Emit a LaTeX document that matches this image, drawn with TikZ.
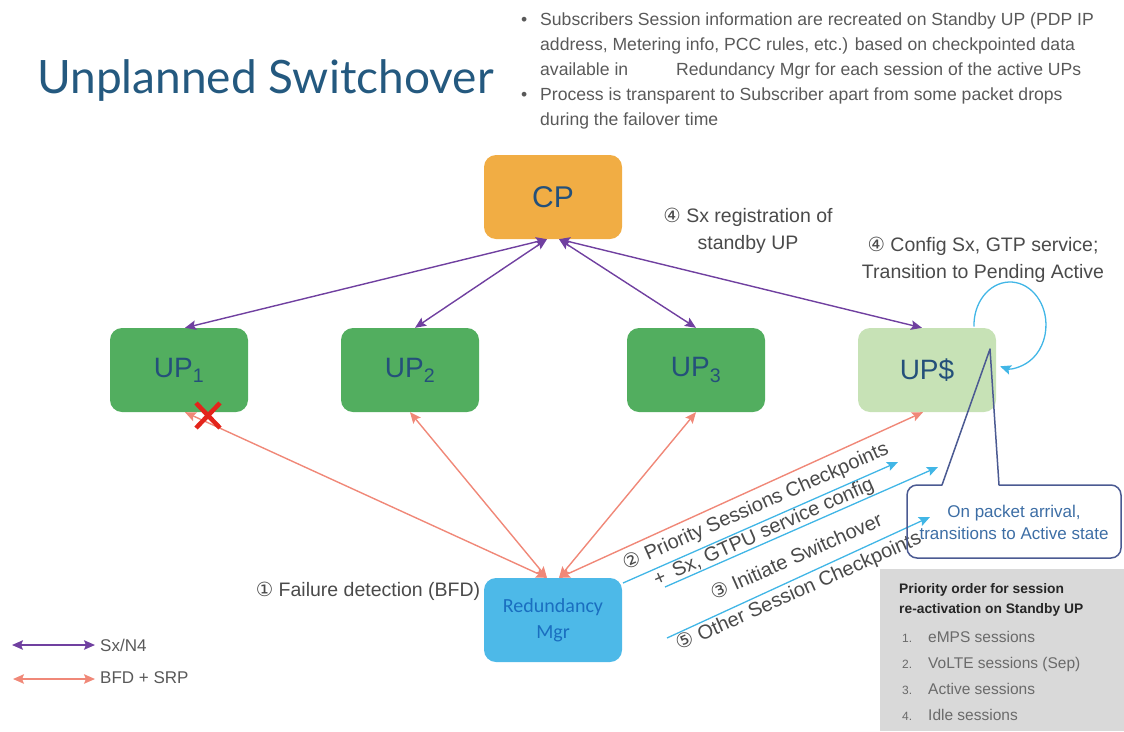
\documentclass[tikz,border=0pt]{standalone}
\usepackage{fontspec}
\setmainfont{Liberation Sans}
\newfontfamily\symfont{DejaVu Sans}
\newfontfamily\calfont{Carlito}
\newfontfamily\headfont{Lato}
\usetikzlibrary{arrows.meta,calc}

\definecolor{cporange}{HTML}{F1AD44}
\definecolor{upgreen}{HTML}{52AE5F}
\definecolor{stbgreen}{HTML}{C7E2B6}
\definecolor{rmblue}{HTML}{4DB9E8}
\definecolor{rmtext}{HTML}{1A6EC0}
\definecolor{nodeblue}{HTML}{24507A}
\definecolor{titleblue}{HTML}{24597F}
\definecolor{sxpurple}{HTML}{7040A0}
\definecolor{bfdsalmon}{HTML}{F08878}
\definecolor{msgblue}{HTML}{41B6E6}
\definecolor{calloutedge}{HTML}{4B5A92}
\definecolor{callouttext}{HTML}{3D6EA5}
\definecolor{panelgray}{HTML}{D9D9D9}
\definecolor{bodygray}{HTML}{595959}
\definecolor{notegray}{HTML}{4A4A4A}
\definecolor{failred}{HTML}{E3241B}

\newcommand{\cnum}[1]{{\symfont #1}}

\begin{document}
\begin{tikzpicture}[x=1pt,y=-1pt,
  elem/.style={rounded corners=12pt, minimum width=138pt, minimum height=84pt,
    inner sep=0pt, text=nodeblue, font=\fontsize{28}{28}\selectfont},
  sxline/.style={draw=sxpurple, line width=1.4pt, {Stealth[length=11pt,width=9.5pt,inset=2pt]}-{Stealth[length=11pt,width=9.5pt,inset=2pt]}},
  bfdline/.style={draw=bfdsalmon, line width=1.4pt, {Stealth[length=11pt,width=9.5pt,inset=2pt]}-{Stealth[length=11pt,width=9.5pt,inset=2pt]}},
  msgline/.style={draw=msgblue, line width=1.3pt, -{Stealth[length=11pt,width=9.5pt,inset=2pt]}},
  note/.style={text=notegray, font=\fontsize{19.5}{27}\selectfont, align=center, inner sep=0pt},
  msgnote/.style={text=notegray, font=\fontsize{20}{24}\selectfont, rotate=24, inner sep=0pt},
  bodyline/.style={anchor=base west, text=bodygray, font=\fontsize{17.6}{22}\selectfont, inner sep=0pt},
  listitem/.style={anchor=base west, text=bodygray!90, font=\fontsize{15.5}{18}\selectfont, inner sep=0pt},
]
\useasboundingbox (0,0) rectangle (1124,731);

% heading and summary bullets
\node[anchor=base west, text=titleblue, font=\headfont\fontsize{46}{46}\selectfont, inner sep=0pt]
  (title) at (37,93) {Unplanned Switchover};
\node[bodyline] (bul1) at (521,25) {\textbullet};
\node[bodyline] (l1) at (540,25) {Subscribers Session information are recreated on Standby UP (PDP IP};
\node[bodyline] (l2) at (540,50) {address, Metering info, PCC rules, etc.) based on checkpointed data};
\node[bodyline] (l3) at (540,75) {available in\hspace{48pt}Redundancy Mgr for each session of the active UPs};
\node[bodyline] (bul2) at (521,100) {\textbullet};
\node[bodyline] (l4) at (540,100) {Process is transparent to Subscriber apart from some packet drops};
\node[bodyline] (l5) at (540,125) {during the failover time};

% network elements
\node[elem, fill=cporange, font=\fontsize{30}{30}\selectfont] (cp) at (553,197) {CP};
\node[elem, fill=upgreen] (up1) at (179,370) {UP\textsubscript{1}};
\node[elem, fill=upgreen] (up2) at (410,370) {UP\textsubscript{2}};
\node[elem, fill=upgreen] (up3) at (696,370) {UP\textsubscript{3}};
\node[elem, fill=stbgreen] (ups) at (927,370) {UP\$};
\node[elem, fill=rmblue, text=rmtext, align=center, font=\calfont\fontsize{20}{26}\selectfont]
  (rm) at (553,620) {Redundancy\\Mgr};

% Sx/N4 links
\draw[sxline] ([xshift=-6pt]cp.south) -- ([xshift=6pt]up1.north);
\draw[sxline] ([xshift=-6pt]cp.south) -- ([xshift=5pt]up2.north);
\draw[sxline] ([xshift=6pt]cp.south) -- (up3.north);
\draw[sxline] ([xshift=6pt]cp.south) -- ([xshift=-5pt]ups.north);

% BFD + SRP links
\draw[bfdline] ([xshift=-6pt]rm.north) -- ([xshift=6pt]up1.south);
\draw[bfdline] ([xshift=-6pt]rm.north) -- (up2.south);
\draw[bfdline] ([xshift=6pt]rm.north) -- (up3.south);
\draw[bfdline] ([xshift=6pt]rm.north) -- ([xshift=-4pt]ups.south);

% failed UP
\draw[failred, line width=4.5pt] (196,403) -- (220,428) (220,403) -- (196,428);

% messages from the Redundancy Mgr to the standby UP
\coordinate (m1s) at (623,583);
\coordinate (m1e) at (898,462);
\coordinate (m2s) at (665,587);
\coordinate (m2e) at (938,467);
\coordinate (m3s) at (667,638);
\coordinate (m3e) at (930,517);
\draw[msgline] (m1s) -- (m1e);
\draw[msgline] (m2s) -- (m2e);
\draw[msgline] (m3s) -- (m3e);
\node[msgnote] (n2) at (756,507) {\cnum{②} Priority Sessions Checkpoints};
\node[msgnote] (n2b) at (764,533) {+\, Sx, GTPU service config};
\node[msgnote] (n3) at (796,556) {\cnum{③} Initiate Switchover};
\node[msgnote] (n5) at (799,592) {\cnum{⑤} Other Session Checkpoints};

% step annotations
\node[note] (n1) at (368,591) {\cnum{①} Failure detection (BFD)};
\node[note] (n4a) at (748,231) {\cnum{④} Sx registration of\\standby UP};
\node[note] (n4b) at (983,260) {\cnum{④} Config Sx, GTP service;\\Transition to Pending Active};

% self transition of the standby UP
\draw[draw=msgblue, line width=1.3pt, -{Stealth[length=11pt,width=9.5pt,inset=2pt]}]
  (974,326.5) arc[start angle=178, end angle=466, x radius=36, y radius=43];

% callout
\draw[calloutedge, line width=1.5pt, line join=round]
  (990,349) -- (999,485) [rounded corners=10pt] -- (1121,485) -- (1121,558) -- (907,558)
  -- (907,485) [sharp corners] -- (942,485) -- cycle;
\node[text=callouttext, align=center, font=\fontsize{17}{22}\selectfont, inner sep=0pt]
  (cbt) at (1014,522) {On packet arrival,\\transitions to Active state};

% priority panel
\node[fill=panelgray, anchor=north west, minimum width=244pt, minimum height=162pt, inner sep=0pt]
  (panel) at (880,569) {};
\node[anchor=base west, text=black!85, font=\bfseries\fontsize{13.8}{20}\selectfont, inner sep=0pt]
  (ph1) at (899,593) {Priority order for session};
\node[anchor=base west, text=black!85, font=\bfseries\fontsize{13.8}{20}\selectfont, inner sep=0pt]
  (ph2) at (899,613) {re-activation on Standby UP};
\node[listitem] (p1) at (902,642) {\makebox[26pt][l]{\fontsize{12}{12}\selectfont 1.}eMPS sessions};
\node[listitem] (p2) at (902,668) {\makebox[26pt][l]{\fontsize{12}{12}\selectfont 2.}VoLTE sessions (Sep)};
\node[listitem] (p3) at (902,694) {\makebox[26pt][l]{\fontsize{12}{12}\selectfont 3.}Active sessions};
\node[listitem] (p4) at (902,720) {\makebox[26pt][l]{\fontsize{12}{12}\selectfont 4.}Idle sessions};

% legend
\coordinate (lg1a) at (12,645);
\coordinate (lg1b) at (95,645);
\coordinate (lg2a) at (13,679);
\coordinate (lg2b) at (95,679);
\draw[sxline] (lg1a) -- (lg1b);
\draw[bfdline] (lg2a) -- (lg2b);
\node[anchor=west, text=bodygray, font=\fontsize{17}{20}\selectfont, inner sep=0pt] (lgt1) at (100,645) {Sx/N4};
\node[anchor=west, text=bodygray, font=\fontsize{17}{20}\selectfont, inner sep=0pt] (lgt2) at (100,678) {BFD + SRP};
\end{tikzpicture}
\end{document}
